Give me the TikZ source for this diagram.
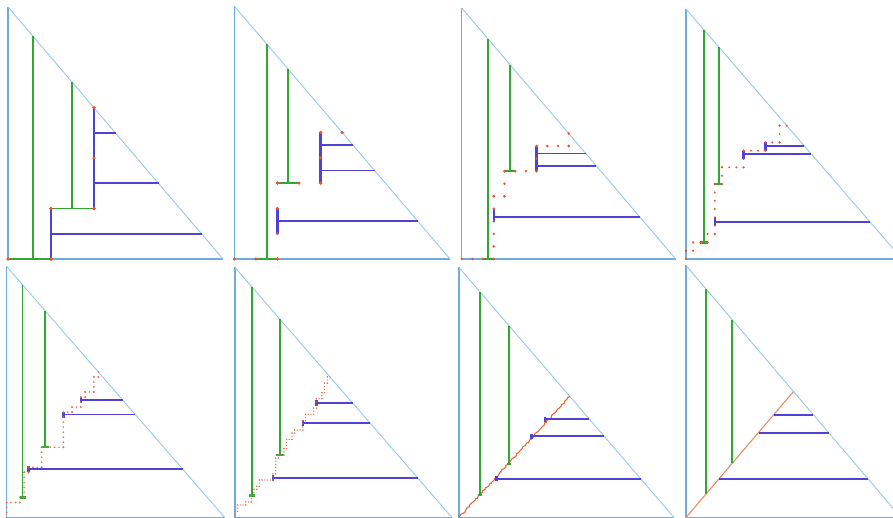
\documentclass[tikz,border=0pt]{standalone}
\usepackage{tikz}
\usetikzlibrary{decorations.pathmorphing}

\definecolor{rimblue}{RGB}{110,172,222}
\definecolor{hypblue}{RGB}{150,202,236}
\definecolor{stemgreen}{RGB}{50,168,50}
\definecolor{armblue}{RGB}{80,66,214}
\definecolor{gridred}{RGB}{232,84,44}
\definecolor{pathorange}{RGB}{236,140,100}

% triangle of one panel, unit coordinates
\newcommand\frametri{%
  \draw[rim] (0,1) -- (0,0) -- (1,0);
  \draw[hyp] (0,1) -- (1,0);}
% green stem at u, from height v up to the hypotenuse
\newcommand\stemup[2]{\draw[stem] (#1,#2) -- (#1,{1-#1});}
% blue arm at height v, from u out to the hypotenuse
\newcommand\armacross[2]{\draw[arm] (#2,#1) -- ({1-#1},#1);}
% dots on the lattice along a staircase: N, style, radius, corners
\newcommand\stairdots[4]{%
  \foreach \x/\y [remember=\x as \lx (initially 0),remember=\y as \ly (initially 0)] in {#4}{
    \pgfmathtruncatemacro\nn{abs(\x-\lx)+abs(\y-\ly)}
    \foreach \k in {0,...,\nn}
      \fill[#2] ({(\lx+(\x-\lx)*\k/\nn)/#1},{(\ly+(\y-\ly)*\k/\nn)/#1}) circle (#3);
  }}

\begin{document}
\begin{tikzpicture}[x=1pt,y=1pt,
  rim/.style={rimblue,line width=1.1pt},
  hyp/.style={hypblue,line width=0.9pt},
  stem/.style={stemgreen,line width=1.7pt},
  arm/.style={armblue,line width=1.8pt},
  gbar/.style={stemgreen,line width=2.4pt},
  bbar/.style={armblue,line width=2.6pt},
  latdot/.style={gridred},
  finedot/.style={gridred!85},
  wiggle/.style={gridred!85!orange,line width=1pt,decorate,
    decoration={random steps,segment length=1.8pt,amplitude=0.8pt}},
  limitline/.style={pathorange,line width=1.1pt},
  panel/.style n args={4}{shift={(#1pt,#2pt)},x=#3pt,y=#4pt}]
  \useasboundingbox (0,0) rectangle (893,517);
  \clip (0,0) rectangle (893,517);
  \fill[white] (0,0) rectangle (893,517);
  \pgfmathsetseed{12}

  % top row
  \begin{scope}[panel={8}{258}{215}{252}]
    \frametri
    \stemup{0.116}{0} \stemup{0.298}{0.2}
    \armacross{0.1}{0.2} \armacross{0.3}{0.4} \armacross{0.5}{0.4}
    \draw[stem] (0,0) -- (0.2,0) (0.2,0.2) -- (0.4,0.2);
    \draw[arm] (0.2,0) -- (0.2,0.2) (0.4,0.2) -- (0.4,0.6);
    \stairdots{5}{latdot}{1.8pt}{1/0,1/1,2/1,2/3}
  \end{scope}

  \begin{scope}[panel={234.3}{258}{215.7}{253}]
    \frametri
    \stemup{0.15}{0} \stemup{0.25}{0.3}
    \armacross{0.15}{0.2} \armacross{0.35}{0.4} \armacross{0.45}{0.4}
    \draw[gbar] (0.1,0) -- (0.2,0) (0.2,0.3) -- (0.3,0.3);
    \draw[bbar] (0.2,0.1) -- (0.2,0.2) (0.4,0.3) -- (0.4,0.5);
    \stairdots{10}{latdot}{1.7pt}{2/0,2/3,4/3,4/5,5/5}
  \end{scope}

  \begin{scope}[panel={461.7}{258}{214}{251}]
    \frametri
    \stemup{0.123}{0} \stemup{0.226}{0.35}
    \armacross{0.168}{0.15} \armacross{0.372}{0.35} \armacross{0.42}{0.35}
    \draw[gbar] (0.1,0) -- (0.15,0) (0.2,0.35) -- (0.25,0.35);
    \draw[bbar] (0.15,0.15) -- (0.15,0.2) (0.35,0.35) -- (0.35,0.45);
    \stairdots{20}{latdot}{1.4pt}{3/0,3/5,4/5,4/7,7/7,7/9,10/9,10/10}
  \end{scope}

  \begin{scope}[panel={686}{258}{216}{250}]
    \frametri
    \stemup{0.083}{0.0667} \stemup{0.153}{0.3}
    \armacross{0.149}{0.1333} \armacross{0.42}{0.2667} \armacross{0.453}{0.3667}
    \draw[gbar] (0.0667,0.0667) -- (0.1,0.0667) (0.1333,0.3) -- (0.1667,0.3);
    \draw[bbar] (0.1333,0.1333) -- (0.1333,0.1667) (0.2667,0.4) -- (0.2667,0.4333)
      (0.3667,0.4333) -- (0.3667,0.4667);
    \stairdots{30}{latdot}{1.1pt}{0/1,1/1,1/2,3/2,3/3,4/3,4/9,5/9,5/11,8/11,8/13,
      11/13,11/14,13/14,13/16,14/16}
  \end{scope}

  % bottom row
  \begin{scope}[panel={6.7}{-0.5}{218}{251}]
    \frametri
    \stemup{0.073}{0.08} \stemup{0.176}{0.28}
    \armacross{0.193}{0.1} \armacross{0.41}{0.26} \armacross{0.468}{0.34}
    \draw[gbar] (0.06,0.08) -- (0.088,0.08) (0.158,0.28) -- (0.194,0.28);
    \draw[bbar] (0.1,0.18) -- (0.1,0.204) (0.26,0.398) -- (0.26,0.42)
      (0.34,0.456) -- (0.34,0.48);
    \stairdots{50}{finedot}{0.95pt}{0/3,3/3,3/4,4/4,4/9,5/9,5/10,8/10,8/14,13/14,
      13/21,15/21,15/22,17/22,17/24,18/24,18/25,20/25,20/28,21/28,21/29}
  \end{scope}

  \begin{scope}[panel={235}{-0.5}{217}{250}]
    \frametri
    \stemup{0.079}{0.0875} \stemup{0.207}{0.25}
    \armacross{0.159}{0.175} \armacross{0.377}{0.3125} \armacross{0.457}{0.375}
    \draw[gbar] (0.066,0.0875) -- (0.093,0.0875) (0.19,0.25) -- (0.228,0.25);
    \draw[bbar] (0.175,0.147) -- (0.175,0.171) (0.3125,0.365) -- (0.3125,0.389)
      (0.375,0.445) -- (0.375,0.469);
    \stairdots{80}{finedot}{0.7pt}{0/2,1/2,1/4,4/4,4/5,6/5,6/7,7/7,7/9,8/9,8/10,
      9/10,9/12,10/12,14/12,14/14,15/14,15/19,16/19,16/20,18/20,18/22,19/22,19/25,
      21/25,21/27,22/27,22/28,25/28,25/31,26/31,26/33,29/33,29/35,30/35,30/38,
      32/38,32/40,33/40,33/43,34/43,34/45,35/45}
  \end{scope}

  \begin{scope}[panel={459}{-0.5}{215}{250}]
    \frametri
    \draw[wiggle] (0,0) -- (0.516,0.485);
    \stemup{0.098}{0.089} \stemup{0.234}{0.215}
    \armacross{0.155}{0.175} \armacross{0.325}{0.338} \armacross{0.394}{0.4}
    \draw[stemgreen,line width=1.8pt] (0.088,0.089) -- (0.108,0.089)
      (0.224,0.215) -- (0.244,0.215);
    \draw[bbar] (0.175,0.145) -- (0.175,0.165) (0.338,0.315) -- (0.338,0.335)
      (0.4,0.384) -- (0.4,0.404);
  \end{scope}

  \begin{scope}[panel={686}{-0.5}{215}{252}]
    \frametri
    \draw[limitline] (0,0) -- (0.5,0.5);
    \stemup{0.092}{0.092} \stemup{0.215}{0.215}
    \armacross{0.153}{0.155} \armacross{0.335}{0.338} \armacross{0.408}{0.411}
  \end{scope}
\end{tikzpicture}
\end{document}
